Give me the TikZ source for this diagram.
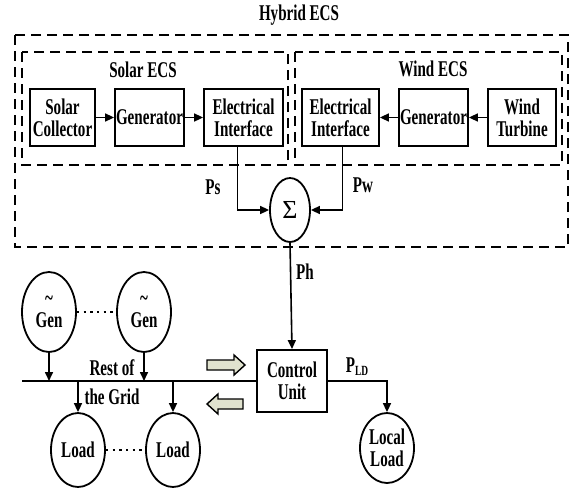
\documentclass[tikz,border=0pt]{standalone}
\usepackage{fontspec}
\setmainfont{Liberation Serif}[FakeStretch=0.67]
\newfontfamily\sigfont{Liberation Serif}
\usetikzlibrary{arrows.meta,shapes.geometric}
\definecolor{arrowfill}{RGB}{224,226,206}
\begin{document}
\begin{tikzpicture}[x=1pt,y=-1pt,
  lbl/.style={font=\fontsize{22.5}{22}\selectfont\bfseries, align=center, inner sep=0pt},
  blk/.style={draw, line width=1.8pt, lbl, minimum height=57pt},
  ell/.style={ellipse, draw, line width=1.8pt, lbl},
  dbox/.style={draw, dash pattern=on 10pt off 6pt, line width=1.8pt},
  conn/.style={line width=1.6pt, -{Triangle[length=9pt,width=8pt]}},
  wire/.style={line width=1.6pt},
  dots/.style={dash pattern=on 2.2pt off 4.5pt, line width=2pt},
  hollow/.style={draw, line width=1.4pt, fill=arrowfill, line join=miter}]
\useasboundingbox (0,0) rectangle (570,490);

% frames
\draw[dbox] (15,35) rectangle (568,247);
\draw[dbox] (22,52) rectangle (288,165);
\draw[dbox] (295,52) rectangle (562,165);
\node[lbl] (hyb) at (299,15) {Hybrid ECS};
\node[lbl] (sol) at (143,70) {Solar ECS};
\node[lbl] (win) at (433,69) {Wind ECS};

% blocks
\node[blk, minimum width=65pt] (sc) at (62.5,117.5) {Solar\\Collector};
\node[blk, minimum width=69pt] (gs) at (149.5,117.5) {Generator};
\node[blk, minimum width=79pt] (eis) at (243.5,117.5) {Electrical\\Interface};
\node[blk, minimum width=77pt] (eiw) at (340.5,117.5) {Electrical\\Interface};
\node[blk, minimum width=69pt] (gw) at (433.5,117.5) {Generator};
\node[blk, minimum width=68pt] (wt) at (522,117.5) {Wind\\Turbine};

\draw[conn] (sc) -- (gs);
\draw[conn] (gs) -- (eis);
\draw[conn] (wt) -- (gw);
\draw[conn] (gw) -- (eiw);

% summation
\node[ellipse, draw, line width=1.8pt, minimum width=40pt, minimum height=64pt, inner sep=0pt,
  font=\sigfont\fontsize{26}{26}\selectfont] (sum) at (290,210) {Σ};
\draw[conn] ([xshift=-6pt]eis.south) |- (sum.west);
\draw[conn] ([xshift=2pt]eiw.south) |- (sum.east);
\node[lbl] (ps) at (213,187) {Ps};
\node[lbl] (pw) at (363,185) {Pw};

% control unit
\node[blk, minimum width=70pt, minimum height=62pt] (cu) at (292,381) {Control\\Unit};
\draw[conn] (sum.south) -- (cu.north);
\node[lbl] (ph) at (305,272) {Ph};

% grid
\coordinate (gl) at (22,381);
\draw[wire] (gl) -- (cu.west);
\node[lbl] (rest) at (112,368) {Rest of};
\node[lbl] (grid) at (112,397) {the Grid};

\node[ell, minimum width=54pt, minimum height=80pt] (g1) at (49,312) {\textasciitilde\\Gen};
\node[ell, minimum width=54pt, minimum height=80pt] (g2) at (144,312) {\textasciitilde\\Gen};
\draw[dots] (g1.east) -- (g2.west);
\draw[conn] (g1.south) -- (g1.south |- gl);
\draw[conn] (g2.south) -- (g2.south |- gl);

\node[ell, minimum width=54pt, minimum height=74pt] (l1) at (78,450) {Load};
\node[ell, minimum width=54pt, minimum height=74pt] (l2) at (173,450) {Load};
\draw[dots] (l1.east) -- (l2.west);
\draw[conn] (l1.north |- gl) -- (l1.north);
\draw[conn] (l2.north |- gl) -- (l2.north);

% local load
\node[ell, minimum width=54pt, minimum height=70pt] (ll) at (387,448) {Local\\Load};
\draw[conn] (cu.east) -| (ll.north);
\node[lbl] (pld) at (357,367) {P{\fontsize{14}{14}\selectfont\raisebox{-3pt}{LD}}};

% power-flow arrows
\draw[hollow] (207,360) -- (234,360) -- (234,355) -- (245,365) -- (234,375)
  -- (234,370) -- (207,370) -- cycle;
\draw[hollow] (243,399) -- (218,399) -- (218,394) -- (207,404) -- (218,414)
  -- (218,409) -- (243,409) -- cycle;
\end{tikzpicture}
\end{document}
